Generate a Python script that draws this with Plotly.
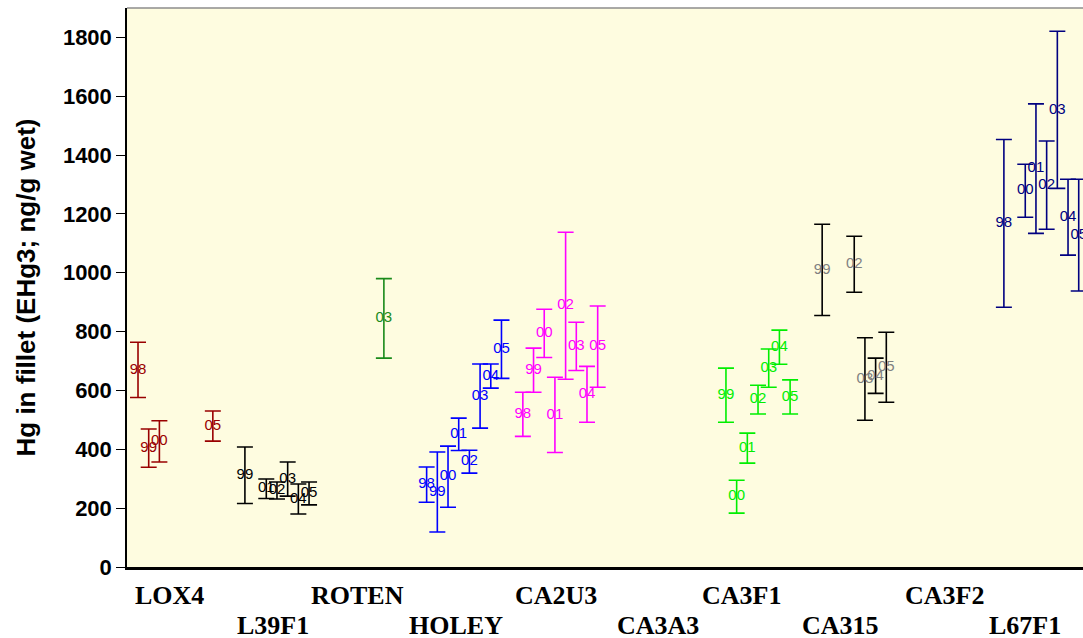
import plotly.graph_objects as go

# Sampling sites along the x axis (each site spans 8 year slots, 98..05)
sites = ["LOX4", "L39F1", "ROTEN", "HOLEY", "CA2U3",
         "CA3A3", "CA3F1", "CA315", "CA3F2", "L67F1"]
site_label_pos = [2.9, 12.6, 20.5, 29.7, 39.1, 48.6, 56.5, 65.7, 75.4, 83.0]
year_codes = ["98", "99", "00", "01", "02", "03", "04", "05"]
slots_per_site = 9

# Mean fillet Hg (ng/g wet) and error half-width per site and year
lox4_years = ["98", "99", "00", "05"]
lox4_mean = [670, 404, 427, 479]
lox4_err = [94, 65, 70, 51]

l39f1_years = ["99", "01", "02", "03", "04", "05"]
l39f1_mean = [312, 266, 260, 299, 231, 250]
l39f1_err = [96, 33, 29, 58, 51, 39]

roten_years = ["03"]
roten_mean = [845]
roten_err = [135]

holey_years = ["98", "99", "00", "01", "02", "03", "04", "05"]
holey_mean = [280, 255, 307, 451, 358, 581, 649, 740]
holey_err = [60, 136, 104, 55, 39, 109, 41, 99]

ca2u3_years = ["98", "99", "00", "01", "02", "03", "04", "05"]
ca2u3_mean = [519, 669, 794, 517, 888, 750, 587, 749]
ca2u3_err = [75, 75, 82, 128, 250, 82, 95, 138]

ca3f1_years = ["99", "00", "01", "02", "03", "04", "05"]
ca3f1_mean = [584, 239, 404, 569, 676, 747, 578]
ca3f1_err = [92, 56, 51, 49, 65, 58, 58]

ca315_years = ["99", "02", "03", "04", "05"]
ca315_mean = [1010, 1029, 639, 650, 679]
ca315_err = [155, 95, 140, 60, 119]

l67f1_years = ["98", "00", "01", "02", "03", "04", "05"]
l67f1_mean = [1168, 1279, 1354, 1298, 1554, 1189, 1128]
l67f1_err = [285, 90, 220, 150, 267, 129, 190]

series = [
    ("LOX4", lox4_years, lox4_mean, lox4_err, "#990000", "#990000"),
    ("L39F1", l39f1_years, l39f1_mean, l39f1_err, "#000000", "#000000"),
    ("ROTEN", roten_years, roten_mean, roten_err, "#1a8a1a", "#1a8a1a"),
    ("HOLEY", holey_years, holey_mean, holey_err, "#0000ff", "#0000ff"),
    ("CA2U3", ca2u3_years, ca2u3_mean, ca2u3_err, "#ff00ff", "#ff00ff"),
    ("CA3F1", ca3f1_years, ca3f1_mean, ca3f1_err, "#00ee00", "#00ee00"),
    ("CA315", ca315_years, ca315_mean, ca315_err, "#000000", "#808080"),
    ("L67F1", l67f1_years, l67f1_mean, l67f1_err, "#000080", "#000080"),
]

fig = go.Figure()

for site, years, means, errs, bar_color, text_color in series:
    base = sites.index(site) * slots_per_site
    xs = [base + year_codes.index(y) for y in years]
    fig.add_trace(go.Scatter(
        x=xs, y=means, mode="text", text=years,
        textposition="middle center",
        textfont=dict(family="Liberation Sans, Arial", size=15, color=text_color),
        error_y=dict(type="data", array=errs, visible=True,
                     color=bar_color, thickness=1.6, width=8),
        showlegend=False, hoverinfo="skip",
    ))

# Staggered site labels under the x axis
for i, (name, pos) in enumerate(zip(sites, site_label_pos)):
    fig.add_annotation(
        x=pos, y=0, xref="x", yref="paper",
        text="<b>%s</b>" % name, showarrow=False,
        xanchor="center", yanchor="middle",
        yshift=-28 if i % 2 == 0 else -58,
        font=dict(family="Liberation Serif, Times New Roman", size=26, color="black"),
    )

# Thin grey frame line along the top of the plot area
fig.add_shape(type="line", xref="paper", yref="paper", x0=0, x1=1, y0=1, y1=1,
              line=dict(color="#8c8c8c", width=1.5))

fig.update_layout(
    width=1083, height=638,
    margin=dict(l=127, r=0, t=8, b=71),
    paper_bgcolor="white",
    plot_bgcolor="#fefce0",
    xaxis=dict(range=[-1.03, 88.4], showticklabels=False, ticks="",
               showgrid=False, zeroline=False,
               showline=True, linecolor="black", linewidth=2.5),
    yaxis=dict(range=[0, 1900], tickmode="linear", tick0=0, dtick=200,
               ticks="outside", ticklen=9, tickwidth=1.2, tickcolor="black",
               showgrid=False, zeroline=False,
               showline=True, linecolor="black", linewidth=1.5,
               tickfont=dict(family="Liberation Sans, Arial", size=22,
                             color="black", weight="bold"),
               title=dict(text="<b>Hg in fillet (EHg3; ng/g wet)</b>",
                          font=dict(family="Liberation Sans, Arial", size=26,
                                    color="black"),
                          standoff=20)),
)

fig.write_html("out.html")
